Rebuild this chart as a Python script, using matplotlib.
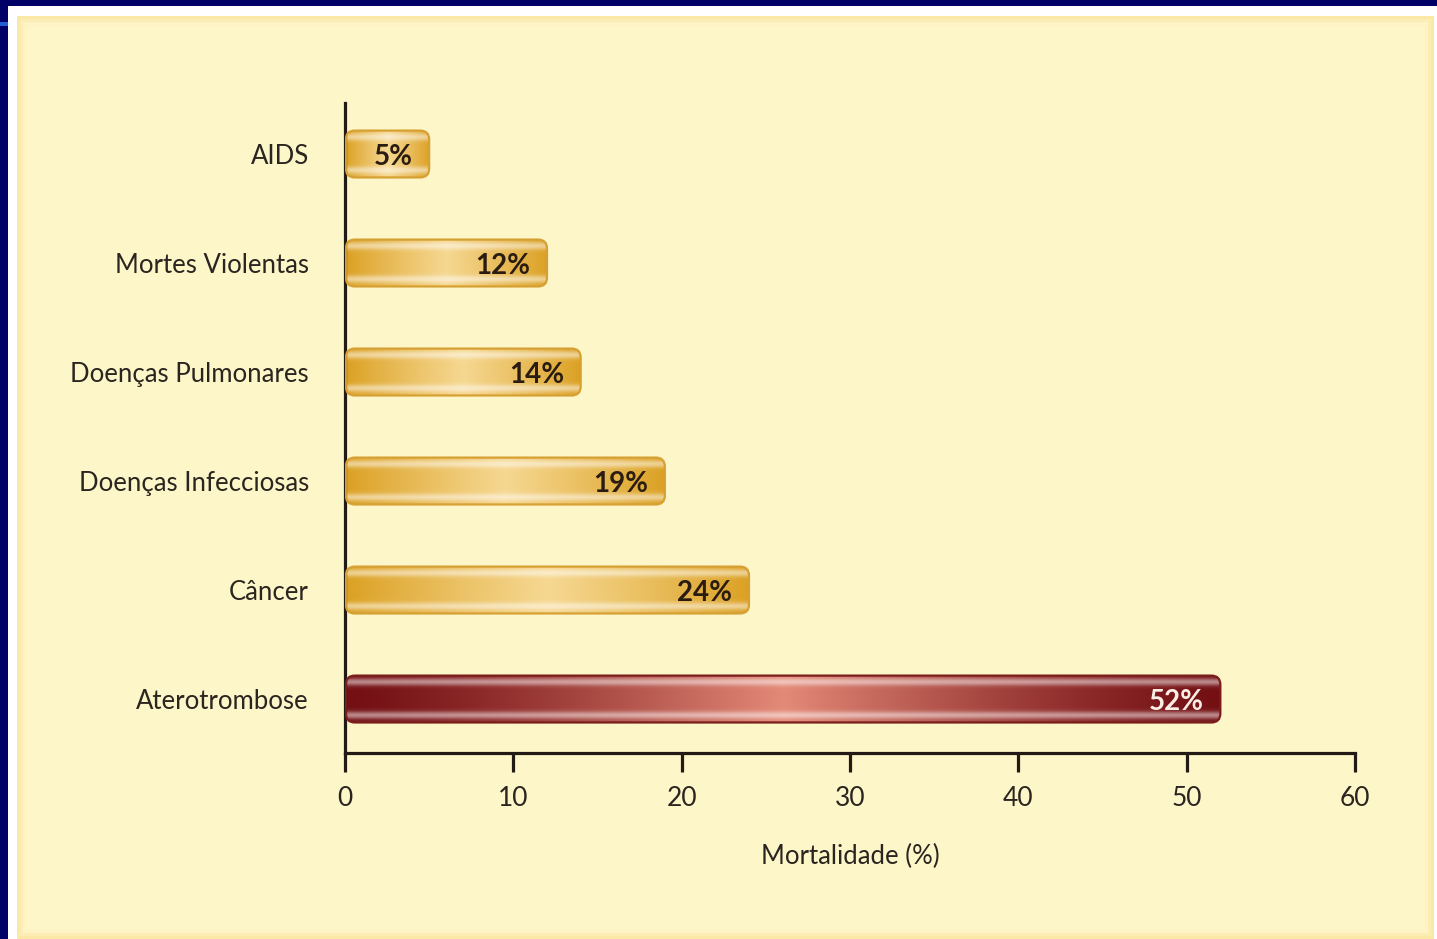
import matplotlib
matplotlib.use("Agg")
import matplotlib.pyplot as plt
import numpy as np
from matplotlib.patches import Rectangle, FancyBboxPatch

# mortality by cause, bottom to top
categories = ["Aterotrombose", "Câncer", "Doenças Infecciosas",
              "Doenças Pulmonares", "Mortes Violentas", "AIDS"]
values = [52, 24, 19, 14, 12, 5]
xticks = [0, 10, 20, 30, 40, 50, 60]

plt.rcParams['font.family'] = ['Lato', 'DejaVu Sans']
TXT = '#2b2520'

W, H = 1437, 939
fig = plt.figure(figsize=(W / 100, H / 100), dpi=100, facecolor='white')


def px_rect(x0, y0, x1, y1, **kw):
    # rectangle given in pixels from the top-left corner
    r = Rectangle((x0 / W, 1 - y1 / H), (x1 - x0) / W, (y1 - y0) / H,
                  transform=fig.transFigure, zorder=-10, **kw)
    fig.add_artist(r)


# slide frame
px_rect(0, 0, W, 6, color='#000066', lw=0)
px_rect(0, 0, 8, H, color='#000066', lw=0)
px_rect(0, 22, 8, 26, color='#1f5fd8', lw=0)
# cream panel with a soft golden rim
px_rect(17, 16, 1434, H, color='#fbe7a6', lw=0)
px_rect(20, 19, 1431, H - 3, color='#fcedb5', lw=0)
px_rect(23, 22, 1428, H - 6, color='#fdf3c4', lw=0)
px_rect(27, 26, 1424, H - 10, color='#fdf6c9', lw=0)

ax = fig.add_axes([345 / W, 1 - 753 / H, 1010 / W, 650 / H])
ax.set_facecolor('none')
ax.set_xlim(0, 60)
ax.set_ylim(-0.495, 5.468)

for s in ['top', 'right']:
    ax.spines[s].set_visible(False)
for s in ['left', 'bottom']:
    ax.spines[s].set_linewidth(2.3)
    ax.spines[s].set_color('#221a14')

ax.set_xticks(xticks)
ax.set_xticklabels([str(t) for t in xticks], fontsize=19, color=TXT)
ax.tick_params(axis='x', direction='out', length=14, width=2.3,
               color='#221a14', pad=9.5)
ax.set_yticks(range(len(categories)))
ax.set_yticklabels(categories, fontsize=18.5, color=TXT)
ax.tick_params(axis='y', length=0, pad=26)
ax.set_xlabel('Mortalidade (%)', fontsize=18.5, color=TXT, labelpad=24)


def bar_image(dark, light, power, n_x=400, n_y=60):
    dark = np.array(matplotlib.colors.to_rgb(dark))
    light = np.array(matplotlib.colors.to_rgb(light))
    x = np.linspace(0, 1, n_x)
    y = np.linspace(0, 1, n_y)
    t = (1 - np.abs(2 * x - 1)) ** power
    base = dark[None, :] * (1 - t[:, None]) + light[None, :] * t[:, None]
    hl = (0.5 * np.exp(-((y - 0.14) / 0.08) ** 2)
          + 0.5 * np.exp(-((y - 0.86) / 0.08) ** 2))
    img = base[None, :, :] * (1 - hl[:, None, None]) + hl[:, None, None] * 1.0
    return np.clip(img, 0, 1)


# rounded corners: keep the radius round despite the unequal data scales
fig.canvas.draw()
p0 = ax.transData.transform((0, 0))
p1 = ax.transData.transform((1, 1))
x_px, y_px = p1[0] - p0[0], p1[1] - p0[1]
aspect = x_px / y_px
radius = 9 / x_px

bar_h = 0.43
for i, (cat, v) in enumerate(zip(categories, values)):
    if cat == "Aterotrombose":
        img = bar_image('#741014', '#e48a78', 1.3)
        edge, lab_col = '#7a1e1c', '#fbeee6'
    else:
        img = bar_image('#dba022', '#f6d892', 0.9)
        edge, lab_col = '#d6a033', '#2a1c10'
    y0, y1 = i - bar_h / 2, i + bar_h / 2
    box = FancyBboxPatch((0.05, y0), v - 0.05, bar_h,
                         boxstyle=f"round,pad=0,rounding_size={radius}",
                         mutation_aspect=aspect,
                         facecolor='none', edgecolor=edge, lw=1.6, zorder=3)
    ax.add_patch(box)
    im = ax.imshow(img, extent=(0.05, v, y0, y1), aspect='auto',
                   origin='upper', zorder=2, interpolation='bilinear')
    im.set_clip_path(box)
    ax.annotate(f"{v}%", xy=(v, i), xytext=(-12, -2),
                textcoords='offset points', ha='right', va='center',
                fontsize=20, fontweight='bold', color=lab_col, zorder=4)

ax.set_xlim(0, 60)
ax.set_ylim(-0.495, 5.468)

fig.savefig('out.png', dpi=100, facecolor='white')
